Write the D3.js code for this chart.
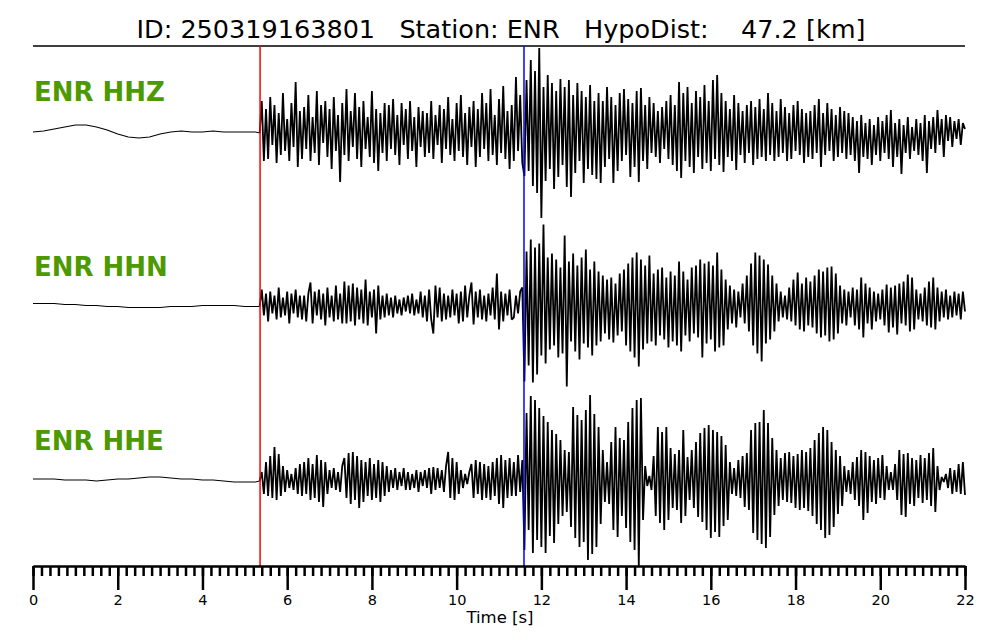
<!DOCTYPE html>
<html><head><meta charset="utf-8">
<script src="https://cdn.jsdelivr.net/npm/d3@7"></script>
<style>body{margin:0;background:#fff} svg{display:block}</style>
</head><body>
<svg id="chart" width="1000" height="640"></svg>
<script>
// ---------- data ----------
const titleText = "ID: 250319163801   Station: ENR   HypoDist:    47.2 [km]";
const channels = ["ENR HHZ", "ENR HHN", "ENR HHE"];
const pPick = 5.36;
const sPick = 11.59;
const xTickValues = [0, 2, 4, 6, 8, 10, 12, 14, 16, 18, 20, 22];
const xLabel = "Time [s]";
const timeDomain = [0, 22];

// pre-event samples: t = 0, 0.25, ... 5.25
const preDt = 0.25;
// post-onset samples: t = 5.35, 5.40, ... 22.00
const postStart = 5.35, postDt = 0.05;

const hhzPre = [-1,0,2,4,6,6,4,1,-3,-6,-7,-6,-3,-1,0,-1,-1,0,-1,-1,-1,-1];
const hhnPre = [2,2,2,1,1,0,0,-1,-1,-2,-2,-2,-2,-1,-1,-1,0,0,0,0,-1,-1];
const hhePre = [1,1,1,0,0,0,-1,0,1,1,2,3,3,2,1,1,0,0,-1,-2,-2,-2];

const hhzPost = [
-2,30,-30,22,-28,34,-14,26,-32,18,-24,38,-20,12,-30,28,-16,49,-36,20,
-28,24,-18,36,-30,14,-22,40,-34,26,-12,30,-26,22,-38,34,-20,16,-51,28,
-24,42,-30,20,-16,38,-28,24,-36,30,-18,14,-26,40,-32,22,-40,18,-22,28,
-30,26,-18,32,-24,16,-34,28,-14,22,-28,30,-20,14,-36,24,-16,20,-26,18,
-22,30,-28,16,-14,26,-32,22,-18,34,-24,12,-30,28,-20,36,-26,18,-34,24,
-16,30,-36,22,-26,38,-18,28,-30,42,-24,16,-34,32,-22,45,-28,20,-38,26,
-30,54,-20,36,-32,-45,51,-40,71,-55,60,-62,83,-87,44,-50,56,-38,48,-58,
40,-46,52,-34,44,-56,51,-66,36,-42,48,-30,40,-52,34,-38,46,-44,30,-48,
38,-52,30,-36,44,-28,34,-52,26,-40,38,-30,42,-24,32,-46,28,-36,40,-51,
43,-30,26,-38,34,-22,28,-26,20,-32,24,-18,30,-28,36,-34,26,-40,49,-47,
38,-30,44,-36,28,-42,40,-26,34,-38,46,-32,30,-40,51,-28,56,-34,38,-41,
30,-26,22,-30,36,-39,28,-24,20,-32,26,-22,30,-34,24,-28,32,-26,22,-30,
38,-24,28,-30,20,-26,32,-22,24,-30,18,-28,26,-20,30,-24,22,-32,18,-26,
20,-28,26,-22,32,-36,18,-24,28,-20,22,-30,16,-26,24,-22,20,-28,18,-24,
14,-30,10,-42,16,-26,8,-28,12,-34,6,-24,14,-30,10,-22,16,-28,21,-36,
8,-26,12,-43,6,-22,14,-28,4,-20,12,-24,8,-30,16,-42,10,-18,14,-22,
21,-14,12,-26,16,-10,14,-16,10,-8,12,-14,8,2
];

const hhnPost = [
-1,16,-10,12,-16,14,-8,10,-14,18,-12,8,-10,14,-18,12,-8,16,-12,10,
-14,10,-16,12,23,-18,14,-10,16,-14,12,-20,18,-12,10,-16,20,-14,12,-18,
24,-18,20,-16,22,-20,18,-14,16,-18,26,-20,14,-12,16,-28,20,-14,10,-12,
12,-10,8,-12,10,-8,6,-10,8,-6,10,-8,12,-10,6,-8,14,-12,10,-16,
16,-14,-28,20,-12,18,-16,12,-14,10,-12,16,-10,12,-18,14,-16,20,-12,10,
23,-19,14,-12,16,-14,10,-16,12,-10,18,-14,32,-24,14,-16,12,-10,16,-14,
-12,10,-8,14,18,-76,54,-60,66,-77,58,-69,62,-50,81,-58,48,-44,52,-40,
46,-52,38,-48,70,-81,44,-36,52,-46,40,-54,48,-38,56,-42,36,-50,44,-40,
34,-36,30,-28,26,-34,28,-37,22,-30,32,-26,36,-40,42,-46,48,-52,53,-61,
46,-44,40,-38,50,-36,32,-40,36,-30,38,-34,28,-42,34,-36,30,-40,44,-46,
34,-30,26,-36,38,-28,40,-32,46,-52,42,-38,44,-34,40,-46,53,-42,36,-40,
26,-24,20,-18,16,-22,14,-12,22,-18,30,-26,42,-40,53,-48,50,-56,46,-38,
41,-34,30,-26,22,-16,14,-12,10,-14,18,-16,26,-20,33,-24,22,-26,28,-20,
24,-22,30,-28,36,-32,34,-30,38,-36,39,-34,32,-28,20,-18,16,-20,14,-12,
18,-20,16,-24,28,-32,22,-18,18,-24,14,-16,12,-14,16,-20,21,-27,18,-22,
20,-29,22,-18,24,-20,31,-26,28,-24,16,-14,12,-16,18,-20,24,-22,28,-24,
18,-16,14,-12,16,-14,10,-12,14,-10,12,-14,14,-6
];

const hhePost = [
-1,8,-14,18,-16,24,-18,33,-20,26,-16,14,-12,10,-8,6,-10,12,-14,16,
-16,18,-14,22,-20,16,-18,25,-22,20,-27,18,-14,10,-8,12,-10,8,-12,14,
22,-18,27,-24,28,-20,24,-28,20,-22,18,-16,22,-20,16,-18,20,-22,18,-16,
14,-12,10,-8,12,-10,8,-6,12,-10,8,-10,6,-8,10,-12,8,-6,10,-8,
12,-14,13,-10,12,-8,10,-12,14,28,-18,22,-20,18,-14,10,-8,6,-4,8,
16,-18,20,-14,18,-20,16,-18,14,-20,18,-16,22,-24,25,-28,20,-18,22,-16,
18,-16,25,-12,20,-70,67,-50,84,-73,80,-60,72,-67,64,-73,58,-56,50,-63,
46,-44,40,-36,30,-32,28,-47,73,-58,65,-67,60,-62,70,-80,85,-74,66,-67,
53,-44,30,-22,18,-24,38,-50,53,-57,42,-36,40,-48,58,-62,72,-70,80,-86,
82,-40,14,-6,4,-10,24,-36,53,-43,48,-50,53,-40,32,-28,26,-30,30,-43,
50,-36,23,-20,30,-28,38,-37,47,-42,52,-50,55,-58,50,-52,48,-57,44,-46,
35,-40,18,-14,12,-16,20,-18,24,-27,27,-30,50,-53,57,-60,58,-64,70,-68,
57,-57,42,-35,30,-26,22,-20,27,-22,28,-23,24,-28,26,-30,30,-28,28,-31,
32,-36,40,-44,47,-50,53,-58,50,-55,38,-47,30,-34,24,-26,14,-12,10,-14,
18,-20,23,-26,30,-40,28,-33,24,-22,20,-24,22,-18,25,-20,14,-10,8,-10,
16,-20,30,-35,26,-37,27,-24,22,-26,20,-18,25,-23,22,-20,27,-26,32,-32,
14,-10,3,-2,6,-8,12,-14,10,-12,16,-14,18,-15
];

const traces = [
  {name: channels[0], pre: hhzPre, post: hhzPost},
  {name: channels[1], pre: hhnPre, post: hhnPost},
  {name: channels[2], pre: hhePre, post: hhePost}
];

// ---------- drawing ----------
const svg = d3.select("#chart");
const font = "DejaVu Sans, Liberation Sans, sans-serif";
const x = d3.scaleLinear().domain(timeDomain).range([33, 965]);
const centers = d3.scalePoint().domain(channels).range([131, 480]);

// title
svg.append("text")
  .attr("x", 501).attr("y", 38)
  .attr("text-anchor", "middle")
  .attr("font-family", font).attr("font-size", 25.5)
  .style("white-space", "pre")
  .text(titleText);

// top rule
svg.append("line")
  .attr("x1", x(timeDomain[0])).attr("x2", x(timeDomain[1]))
  .attr("y1", 46).attr("y2", 46)
  .attr("stroke", "#000").attr("stroke-width", 1.5);

const line = d3.line().x(d => x(d[0])).y(d => d[1]);

traces.forEach(tr => {
  const c = centers(tr.name);
  const y = d3.scaleLinear().domain([-100, 100]).range([c + 100, c - 100]);
  const prePts = tr.pre.map((v, i) => [i * preDt, y(v)]);
  const postPts = tr.post.map((v, i) => [postStart + i * postDt, y(v)]);
  prePts.push(postPts[0]);
  svg.append("path")
    .attr("d", line(prePts))
    .attr("fill", "none")
    .attr("stroke", "#000")
    .attr("stroke-width", 1.2);
  svg.append("path")
    .attr("d", line(postPts))
    .attr("fill", "none")
    .attr("stroke", "#000")
    .attr("stroke-width", 1.8)
    .attr("stroke-linejoin", "miter")
    .attr("stroke-miterlimit", 2);
  svg.append("text")
    .attr("x", 34).attr("y", c - 30)
    .attr("font-family", font).attr("font-size", 26)
    .attr("font-weight", "bold")
    .attr("fill", "#4d9900")
    .text(tr.name);
});

// picks
svg.append("line")
  .attr("x1", x(pPick)).attr("x2", x(pPick))
  .attr("y1", 46).attr("y2", 566)
  .attr("stroke", "#ff0000").attr("stroke-width", 1.5);
svg.append("line")
  .attr("x1", x(sPick)).attr("x2", x(sPick))
  .attr("y1", 46).attr("y2", 566)
  .attr("stroke", "#0000ff").attr("stroke-width", 1.5);

// axis: minor ticks
const minorTicks = d3.range(0, 22.0001, 0.2);
const gMinor = svg.append("g").attr("transform", "translate(0,566)")
  .call(d3.axisBottom(x).tickValues(minorTicks).tickSize(10).tickSizeOuter(0).tickFormat(""));
gMinor.selectAll(".tick line").attr("stroke", "#000").attr("stroke-width", 2.5);
gMinor.select(".domain").attr("stroke", "#000").attr("stroke-width", 2);

const gMajor = svg.append("g").attr("transform", "translate(0,566)")
  .call(d3.axisBottom(x).tickValues(xTickValues).tickSize(24).tickSizeOuter(0).tickPadding(5).tickFormat(d3.format("d")));
gMajor.select(".domain").attr("stroke", "#000").attr("stroke-width", 2);
gMajor.selectAll(".tick line").attr("stroke", "#000").attr("stroke-width", 2.5);
gMajor.selectAll(".tick text").attr("font-family", font).attr("font-size", 14.5).attr("fill", "#000");

svg.append("text")
  .attr("x", 500).attr("y", 623)
  .attr("text-anchor", "middle")
  .attr("font-family", font).attr("font-size", 16.5)
  .text(xLabel);
</script>
</body></html>
